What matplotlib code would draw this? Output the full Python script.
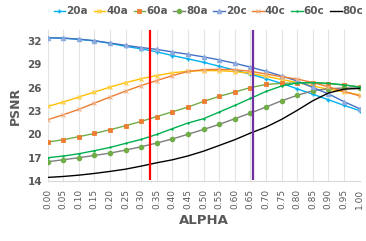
import matplotlib
matplotlib.use("Agg")
import matplotlib.pyplot as plt

alpha = [0.00, 0.05, 0.10, 0.15, 0.20, 0.25, 0.30, 0.35, 0.40, 0.45, 0.50,
         0.55, 0.60, 0.65, 0.70, 0.75, 0.80, 0.85, 0.90, 0.95, 1.00]
alpha_labels = [f"{a:.2f}" for a in alpha]

s20a = [32.40, 32.35, 32.20, 32.00, 31.70, 31.30, 30.98, 30.60, 30.12, 29.70, 29.25,
        28.75, 28.25, 27.72, 27.15, 26.55, 25.85, 25.15, 24.45, 23.72, 23.05]
s40a = [23.58, 24.13, 24.78, 25.42, 26.06, 26.63, 27.14, 27.55, 27.90, 28.10, 28.18,
        28.18, 28.05, 27.85, 27.45, 27.05, 26.65, 26.20, 25.80, 25.45, 25.05]
s60a = [19.00, 19.30, 19.69, 20.11, 20.58, 21.10, 21.65, 22.28, 22.88, 23.50, 24.22,
        24.87, 25.42, 26.00, 26.40, 26.55, 26.60, 26.60, 26.50, 26.35, 26.10]
s80a = [16.47, 16.73, 16.99, 17.28, 17.58, 17.97, 18.40, 18.88, 19.40, 20.00, 20.62,
        21.27, 22.00, 22.72, 23.50, 24.30, 25.00, 25.60, 25.85, 25.95, 25.95]
s20c = [32.41, 32.36, 32.23, 32.03, 31.73, 31.43, 31.15, 30.91, 30.58, 30.28, 29.95,
        29.56, 29.13, 28.63, 28.10, 27.50, 26.85, 26.02, 25.20, 24.20, 23.30]
s40c = [21.87, 22.50, 23.20, 24.00, 24.78, 25.55, 26.26, 26.90, 27.53, 28.08, 28.30,
        28.34, 28.30, 28.10, 27.75, 27.40, 27.10, 26.65, 26.10, 25.50, 24.95]
s60c = [16.99, 17.20, 17.50, 17.89, 18.31, 18.83, 19.34, 19.98, 20.72, 21.45, 22.00,
        22.85, 23.70, 24.60, 25.50, 26.20, 26.60, 26.65, 26.55, 26.35, 26.05]
s80c = [14.46, 14.58, 14.75, 14.97, 15.23, 15.52, 15.91, 16.34, 16.72, 17.22, 17.83,
        18.56, 19.30, 20.15, 20.92, 21.91, 23.07, 24.30, 25.30, 25.80, 25.90]

yticks = [14, 17, 20, 23, 26, 29, 32]
red_alpha = 0.33
purple_alpha = 0.66

series = [
    ("20a", s20a, dict(color="#00B0F0", marker="+", ms=3.5, mec="#00B0F0", mfc="#00B0F0")),
    ("40a", s40a, dict(color="#FFC000", marker="x", ms=2.5, mec="#FFD24D", mfc="#FFD24D")),
    ("60a", s60a, dict(color="#70AD47", marker="s", ms=3, mec="#ED7D31", mfc="#ED7D31", mew=0.6)),
    ("80a", s80a, dict(color="#7F7F7F", marker="o", ms=3, mec="#70AD47", mfc="#70AD47")),
    ("20c", s20c, dict(color="#4472C4", marker="^", ms=3, mec="#8FAADC", mfc="#8FAADC")),
    ("40c", s40c, dict(color="#ED7D31", marker="x", ms=3, mec="#F4B183", mfc="#F4B183", mew=0.8)),
    ("60c", s60c, dict(color="#00B050", marker="+", ms=2, mec="#00B050")),
    ("80c", s80c, dict(color="#000000")),
]

fig = plt.figure(figsize=(3.66, 2.41), dpi=100)
ax = fig.add_axes([47.5 / 366, 60 / 241, 312 / 366, 151 / 241])

for x in alpha:
    ax.axvline(x, color="#E3E3E3", lw=0.8, zorder=0)

for name, vals, st in series:
    ax.plot(alpha, vals, lw=1.0, label=name, zorder=3, **st)

ax.vlines([red_alpha], 14.1, 33.4, color="#FF0000", lw=1.6, zorder=5)
ax.vlines([purple_alpha], 14.1, 33.4, color="#7030A0", lw=1.6, zorder=5)

ax.set_xlim(0, 1.0)
ax.set_ylim(14, 33.4)
ax.set_yticks(yticks)
ax.set_yticklabels([str(t) for t in yticks], fontsize=7.5, color="#595959", fontweight="bold")
ax.set_xticks(alpha)
ax.set_xticklabels(alpha_labels, rotation=90, fontsize=6.5, color="#595959")
ax.tick_params(axis="both", length=0, pad=6)
ax.tick_params(axis="y", pad=4)

for side in ["top", "right", "left"]:
    ax.spines[side].set_visible(False)
ax.spines["bottom"].set_color("#D9D9D9")
ax.spines["bottom"].set_linewidth(0.8)

ax.set_xlabel("ALPHA", fontsize=9.5, fontweight="bold", color="#595959", labelpad=3)
ax.set_ylabel("PSNR", fontsize=9, fontweight="bold", color="#595959", labelpad=4)

fig.legend(loc="center", bbox_to_anchor=(0.57, 0.953), ncol=8, frameon=False,
           handlelength=1.1, columnspacing=0.55, handletextpad=0.1,
           prop=dict(size=7.5, weight="bold"), labelcolor="#595959")

fig.savefig("out.png", dpi=100)
